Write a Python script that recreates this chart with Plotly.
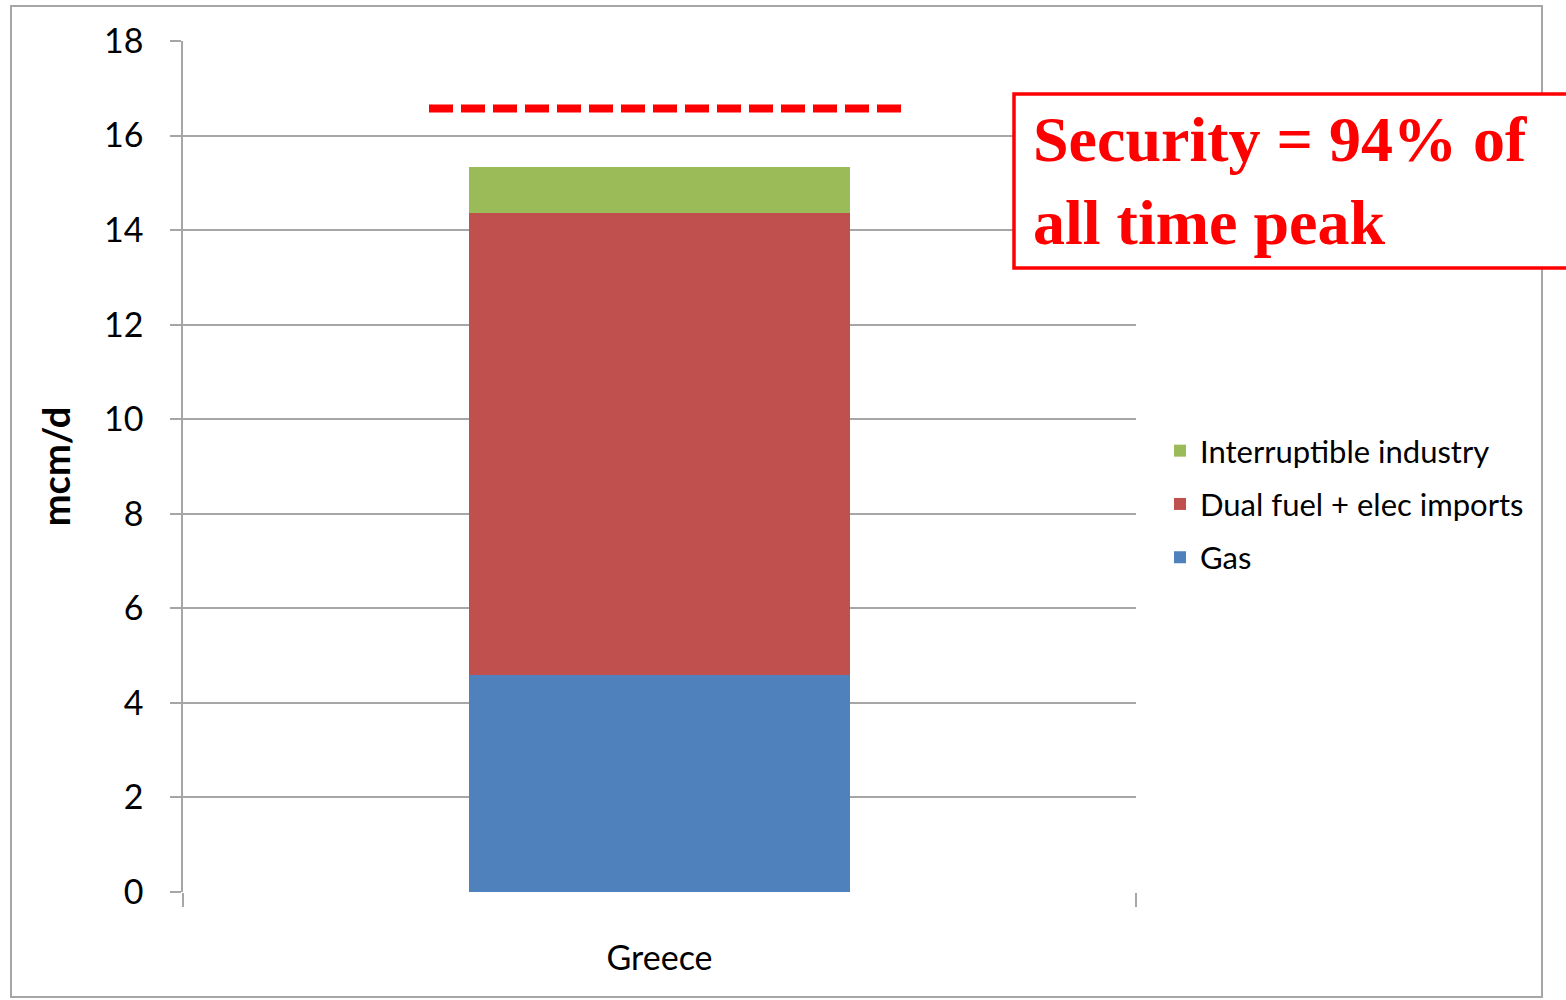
import plotly.graph_objects as go

categories = ["Greece"]
gas = [4.59]
dual_fuel = [9.77]
interruptible = [0.98]
peak_level = [16.57]
y_ticks = [0, 2, 4, 6, 8, 10, 12, 14, 16, 18]

W, H = 1566, 1000
L, R, T, B = 183, 430, 41, 108
pw, ph = W - L - R, H - T - B

def px(x):
    return (x - L) / pw

def py(y):
    return (H - B - y) / ph

font_main = "Lato, Open Sans, sans-serif"

fig = go.Figure()
fig.add_bar(x=categories, y=gas, name="Gas", legendgroup="g1", legendrank=3,
            marker=dict(color="#4f81bd", line=dict(width=0)))
fig.add_bar(x=categories, y=dual_fuel, name="Dual fuel + elec imports", legendgroup="g2", legendrank=2,
            marker=dict(color="#c0504d", line=dict(width=0)))
fig.add_bar(x=categories, y=interruptible, name="Interruptible industry", legendgroup="g3", legendrank=1,
            marker=dict(color="#9bbb59", line=dict(width=0)))

shapes = [
    dict(type="rect", xref="paper", yref="paper", x0=px(11), x1=px(1542), y0=py(997), y1=py(6),
         line=dict(color="#a6a6a6", width=2), fillcolor="rgba(0,0,0,0)", layer="below"),
    dict(type="rect", xref="paper", yref="paper", x0=px(1014), x1=px(1600), y0=py(268), y1=py(94),
         line=dict(color="#ff0000", width=3.5), fillcolor="white", layer="above"),
    dict(type="line", xref="paper", yref="y", x0=px(429), x1=px(901), y0=peak_level[0], y1=peak_level[0],
         line=dict(color="#ff0000", width=8, dash="24px,8px"), layer="above"),
]

fig.update_layout(
    width=W, height=H,
    margin=dict(l=L, r=R, t=T, b=B, pad=0),
    barmode="stack",
    bargap=0.6,
    plot_bgcolor="white",
    paper_bgcolor="white",
    shapes=shapes,
    font=dict(family=font_main, color="black"),
    legend=dict(
        x=px(1160), y=py(504), xanchor="left", yanchor="middle",
        traceorder="grouped",
        font=dict(size=31, family=font_main, color="black"),
        tracegroupgap=10, itemwidth=30,
        bgcolor="rgba(0,0,0,0)",
    ),
    showlegend=True,
    annotations=[
        dict(xref="paper", yref="paper", x=px(1031), y=py(181), xanchor="left", yanchor="middle",
             text="Security = 94% of<br>all time peak", showarrow=False, align="left",
             font=dict(family="Liberation Serif, Times New Roman, serif", size=64, color="#ff0000", weight="bold")),
    ],
    xaxis=dict(
        type="category",
        tickson="boundaries",
        ticks="outside", ticklen=14, tickcolor="#a6a6a6", tickwidth=1.5,
        showgrid=False, showline=False, zeroline=False,
        tickfont=dict(size=34, family=font_main),
        ticklabelstandoff=43,
    ),
    yaxis=dict(
        range=[0, 18], tickvals=y_ticks,
        ticks="outside", ticklen=11, tickcolor="#a6a6a6", tickwidth=1.5,
        showgrid=True, gridcolor="#a6a6a6", gridwidth=1.5,
        showline=True, linecolor="#a6a6a6", linewidth=1.5,
        zeroline=False,
        tickfont=dict(size=34, family=font_main),
        ticklabelstandoff=20,
        title=dict(text="<b>mcm/d</b>", font=dict(size=38, family=font_main), standoff=22),
    ),
)

fig.write_html("out.html")
